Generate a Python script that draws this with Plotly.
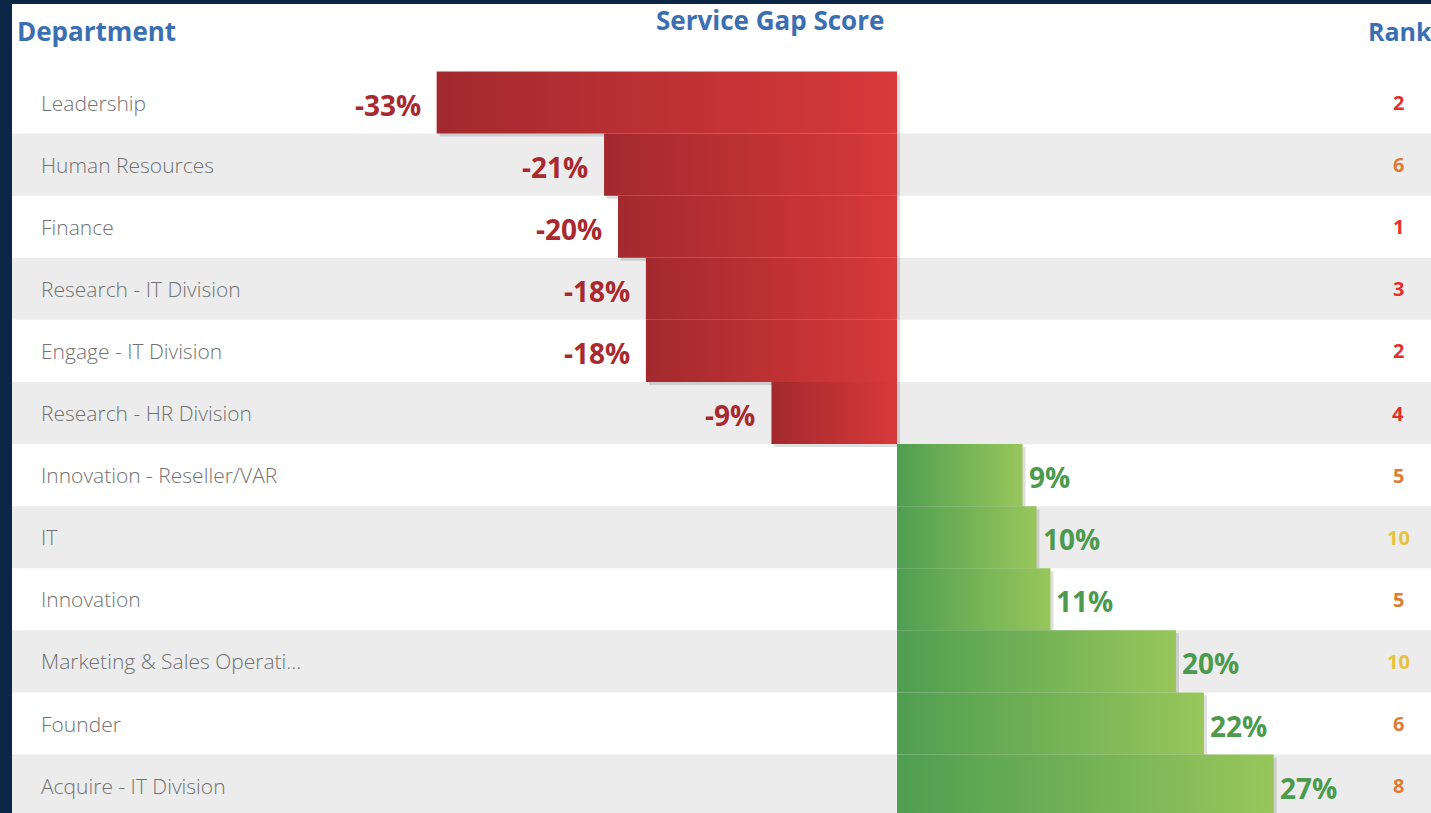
import plotly.graph_objects as go

departments = [
    "Leadership", "Human Resources", "Finance", "Research - IT Division",
    "Engage - IT Division", "Research - HR Division", "Innovation - Reseller/VAR",
    "IT", "Innovation", "Marketing & Sales Operati...", "Founder", "Acquire - IT Division",
]
gap_scores = [-33, -21, -20, -18, -18, -9, 9, 10, 11, 20, 22, 27]
ranks = [2, 6, 1, 3, 2, 4, 5, 10, 5, 10, 6, 8]
rank_colors = ["#e2302b", "#e07b34", "#e2302b", "#e2302b", "#e2302b", "#e2302b",
               "#e07b34", "#e6c340", "#e07b34", "#e6c340", "#e07b34", "#e07b34"]

W, H = 1431, 813
NAVY = "#0b2646"
BLUE = "#3c6fb1"
RED_SCALE = [[0, "#a3292e"], [1, "#d8393a"]]
GREEN_SCALE = [[0, "#4f9e51"], [1, "#98c65b"]]
RED_TXT = "#a8292f"
GREEN_TXT = "#4b9a4e"
STRIPE = "#ececec"
FONT = "Open Sans"

PX_PER_UNIT = 13.95      # pixels per percentage point
ZERO_PX = 897            # pixel x of zero
ROW_H = 62.1             # pixel height of one row
ROW0_PX = 102.5          # pixel y of first row centre
L_MARGIN, T_MARGIN = 12, 4
PW, PH = W - L_MARGIN, H - T_MARGIN


def px(xp):
    return (xp - L_MARGIN) / PW


def py(yp):
    return 1 - (yp - T_MARGIN) / PH


x_lo = (L_MARGIN - ZERO_PX) / PX_PER_UNIT
x_hi = (W - ZERO_PX) / PX_PER_UNIT
y_top = (T_MARGIN - ROW0_PX) / ROW_H
y_bot = (H - ROW0_PX) / ROW_H

fig = go.Figure()

n = len(departments)
half = 0.5
sx = 3 / PX_PER_UNIT
sy = 3 / ROW_H

shapes = []
for i in range(n):
    if i % 2 == 1:
        shapes.append(dict(type="rect", xref="paper", yref="y", x0=0, x1=1,
                           y0=i - half, y1=i + half, fillcolor=STRIPE,
                           line=dict(width=0), layer="below"))

for i, v in enumerate(gap_scores):
    x0, x1 = min(0, v), max(0, v)
    fig.add_trace(go.Scatter(
        x=[x0 + sx, x1 + sx, x1 + sx, x0 + sx, x0 + sx],
        y=[i - half + sy, i - half + sy, i + half + sy, i + half + sy, i - half + sy],
        mode="lines", line=dict(width=0), fill="toself",
        fillcolor="rgba(0,0,0,0.13)", hoverinfo="skip", showlegend=False))

for i, v in enumerate(gap_scores):
    x0, x1 = min(0, v), max(0, v)
    fig.add_trace(go.Scatter(
        x=[x0, x1, x1, x0, x0],
        y=[i - half, i - half, i + half, i + half, i - half],
        mode="lines", line=dict(width=0), fill="toself",
        fillgradient=dict(type="horizontal",
                          colorscale=RED_SCALE if v < 0 else GREEN_SCALE),
        hoverinfo="skip", showlegend=False, name=departments[i]))

annotations = []
for i, (d, v, r, rc) in enumerate(zip(departments, gap_scores, ranks, rank_colors)):
    annotations.append(dict(x=px(39), xref="paper", y=i, yref="y", text=d,
                            showarrow=False, xanchor="left", yanchor="middle",
                            font=dict(family=FONT, size=21, color="#727272", weight=300)))
    annotations.append(dict(x=v, xref="x", y=i, yref="y", text=f"{v}%",
                            showarrow=False,
                            xanchor="right" if v < 0 else "left",
                            xshift=-14 if v < 0 else 4, yshift=-2,
                            font=dict(family=FONT, size=28,
                                      color=RED_TXT if v < 0 else GREEN_TXT, weight="bold")))
    annotations.append(dict(x=px(1398), xref="paper", y=i, yref="y", text=str(r),
                            showarrow=False, xanchor="center", yanchor="middle",
                            font=dict(family=FONT, size=20, color=rc, weight="bold")))

annotations += [
    dict(x=px(15), xref="paper", y=py(31), yref="paper", text="Department",
         showarrow=False, xanchor="left", yanchor="middle",
         font=dict(family=FONT, size=26, color=BLUE, weight="bold")),
    dict(x=px(770), xref="paper", y=py(20), yref="paper", text="Service Gap Score",
         showarrow=False, xanchor="center", yanchor="middle",
         font=dict(family=FONT, size=26, color=BLUE, weight="bold")),
    dict(x=px(1366), xref="paper", y=py(31), yref="paper", text="Rank",
         showarrow=False, xanchor="left", yanchor="middle",
         font=dict(family=FONT, size=25, color=BLUE, weight="bold")),
]

fig.update_layout(
    width=W, height=H,
    margin=dict(l=L_MARGIN, r=0, t=T_MARGIN, b=0),
    paper_bgcolor=NAVY, plot_bgcolor="white",
    xaxis=dict(range=[x_lo, x_hi], visible=False, fixedrange=True),
    yaxis=dict(range=[y_bot, y_top], visible=False, fixedrange=True),
    shapes=shapes, annotations=annotations, showlegend=False,
)

fig.write_html("out.html", config={"displayModeBar": False})
